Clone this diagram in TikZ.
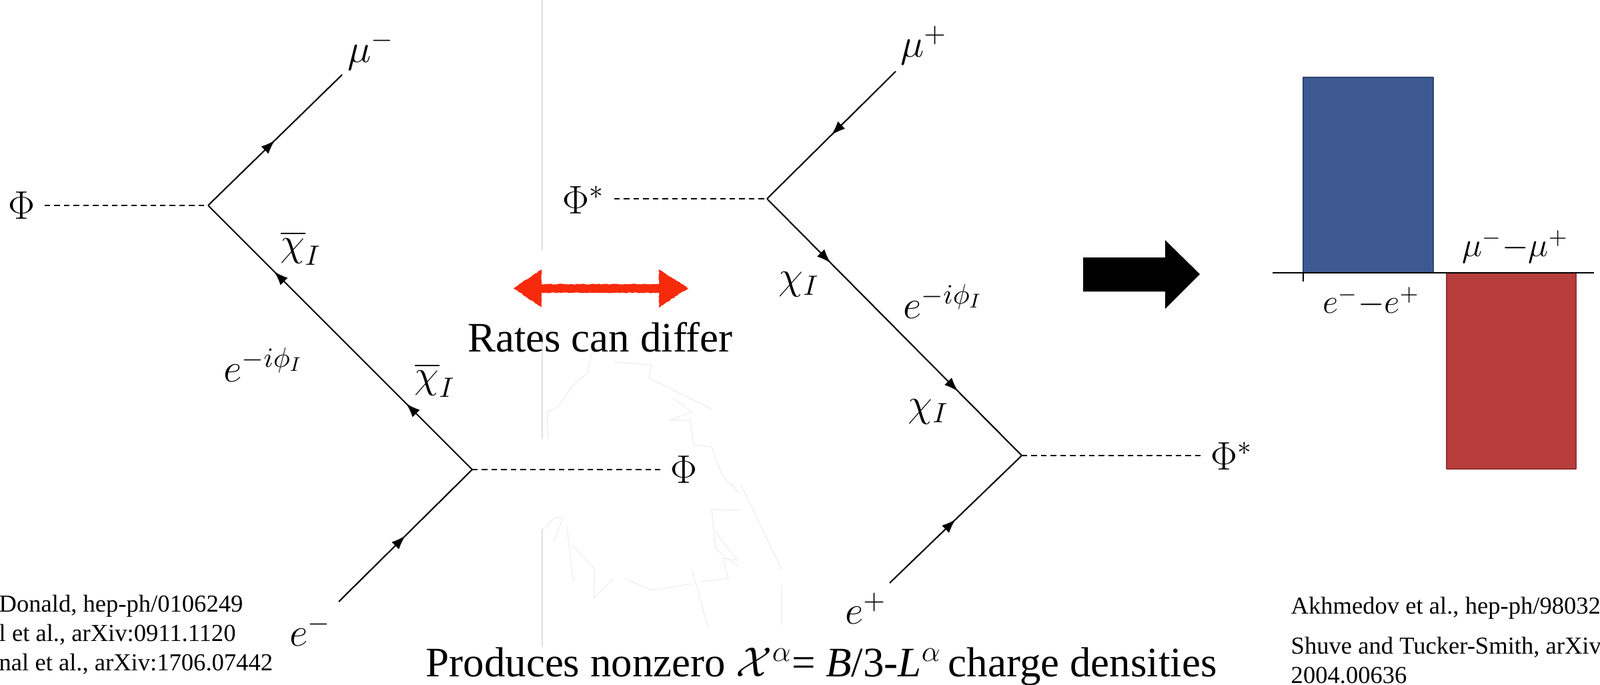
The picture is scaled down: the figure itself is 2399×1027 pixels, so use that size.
\RequirePackage{fix-cm}
\documentclass[tikz,border=0pt]{standalone}
\usepackage[no-math]{fontspec}
\setmainfont{Liberation Serif}
\usepackage{amsmath,amssymb}
\usetikzlibrary{arrows.meta,decorations.markings,decorations.pathmorphing}
\definecolor{barblue}{RGB}{62,89,146}
\definecolor{barred}{RGB}{184,61,61}
\definecolor{ratered}{RGB}{247,42,12}
\tikzset{
  fermion/.style={line width=0.6pt,postaction={decorate},
    decoration={markings,mark=at position 0.5 with {\arrow{Latex[length=6pt,width=4.4pt]}}}},
  fermionpair/.style={line width=0.6pt,postaction={decorate},
    decoration={markings,mark=at position 0.25 with {\arrow{Latex[length=6pt,width=4.4pt]}},
      mark=at position 0.75 with {\arrow{Latex[length=6pt,width=4.4pt]}}}},
  scalar/.style={line width=0.45pt,dash pattern=on 2.4pt off 1.7pt},
  lab/.style={inner sep=0pt,font=\fontsize{17}{20}\selectfont},
  barlab/.style={inner sep=0pt,font=\fontsize{14.5}{17}\selectfont},
  bigtext/.style={inner sep=0pt,font=\fontsize{17.9}{21}\selectfont},
  reftext/.style={inner sep=0pt,anchor=base west,font=\fontsize{10.4}{12.5}\selectfont},
  sketch/.style={black!7,line width=0.35pt}
}
\begin{document}
\begin{tikzpicture}[x=0.01cm,y=-0.01cm,line join=round]
  \useasboundingbox (0,0) rectangle (2399,1027);
  \clip (0,0) rectangle (2399,1027);
  % faint guide line and sketch behind the middle
  \draw[black!13,line width=0.4pt] (813,0)--(813,375) (813,493)--(813,658) (813,793)--(813,970);
  \draw[sketch] (888,528)--(880,560)--(857,580)--(837,610)--(820,618)--(822,657);
  \draw[sketch] (920,543)--(977,547)--(973,567)--(1067,613);
  \draw[sketch] (1010,598)--(1038,618)--(1003,630)--(1035,630)--(1040,667)--(1067,670)--(1083,713)--(1110,740);
  \draw[sketch] (1067,763)--(1073,823)--(1107,850);
  \draw[sketch] (813,794)--(820,789)--(830,777)--(842,775)--(843,780)--(830,812);
  \draw[sketch] (850,790)--(860,872) (858,817)--(892,854)--(890,897)--(920,867);
  \draw[sketch] (1065,764)--(1111,765) (1073,797)--(1105,840)--(1084,837)--(1092,867)--(1050,872);
  \draw[sketch] (1111,727)--(1172,854) (1172,877)--(1172,937) (1038,855)--(1062,943);
  \draw[sketch] (938,868)--(977,885)--(1038,875);
  % vertices
  \coordinate (v1) at (312,308);
  \coordinate (v2) at (708,704);
  \coordinate (v3) at (1150,298);
  \coordinate (v4) at (1532,683);
  % free ends of the external legs
  \coordinate (mum) at (513,112);
  \coordinate (em)  at (508,902);
  \coordinate (s1)  at (67,308);
  \coordinate (s2)  at (992,704);
  \coordinate (mup) at (1343,107);
  \coordinate (ep)  at (1334,874);
  \coordinate (s3)  at (921,298);
  \coordinate (s4)  at (1804,683);
  % left diagram
  \draw[scalar] (s1)--(v1);
  \draw[fermion] (v1)--(mum);
  \draw[fermionpair] (v2)--(v1);
  \draw[scalar] (v2)--(s2);
  \draw[fermion] (em)--(v2);
  % right diagram (conjugate process)
  \draw[scalar] (s3)--(v3);
  \draw[fermion] (mup)--(v3);
  \draw[fermionpair] (v3)--(v4);
  \draw[scalar] (v4)--(s4);
  \draw[fermion] (ep)--(v4);
  % particle labels
  \foreach \n/\p/\lab in {phiA/{32,308}/{$\Phi$}, muA/{556,76}/{$\mu^-$},
        chiA/{451,372}/{$\overline{\chi}_I$}, chiB/{652,570}/{$\overline{\chi}_I$},
        phaseA/{395,547}/{$e^{-i\phi_I}$}, phiB/{1025,704}/{$\Phi$}, eA/{465,945}/{$e^-$},
        phiC/{875,300}/{$\Phi^*$}, muB/{1385,68}/{$\mu^+$}, chiC/{1198,426}/{$\chi_I$},
        phaseB/{1414,452}/{$e^{-i\phi_I}$}, chiD/{1392,617}/{$\chi_I$},
        phiD/{1847,684}/{$\Phi^*$}, eB/{1298,912}/{$e^+$}}{\node[lab] (\n) at (\p) {\lab};}
  % red double arrow and caption
  \fill[ratered,decorate,decoration={random steps,segment length=0.8pt,amplitude=0.2pt}]
    (770,432)--(812,404)--(812,426)--(988,426)--(988,404)--(1032,432)
    --(988,461)--(988,439)--(812,439)--(812,461)--cycle;
  \node[bigtext,anchor=base] (rates) at (900,527) {Rates can differ};
  % black block arrow
  \fill (1624,386)--(1747,386)--(1747,360)--(1799,411)--(1747,463)--(1747,437)--(1624,437)--cycle;
  % asymmetry bars
  \filldraw[fill=barblue,draw=barblue!75!black,line width=0.4pt] (1954,116) rectangle (2149,409);
  \filldraw[fill=barred,draw=barred!80!black,line width=0.4pt] (2169,409) rectangle (2363,703);
  \draw[line width=0.35pt] (1908,409)--(2390,409);
  \draw[line width=0.35pt] (1954,409)--(1954,422);
  \node[barlab] (diffE) at (2056,452) {$e^-{-}e^+$};
  \node[barlab] (diffM) at (2272,370) {$\mu^-{-}\mu^+$};
  % bottom line
  \node[bigtext,anchor=base west] (produces) at (638,1014)
    {Produces nonzero $\mathcal{X}^{\alpha}$= \textit{B}/3-\textit{L}$^{\alpha}$\,charge densities};
  % references
  \node[reftext] (refA) at (-2,917) {Donald, hep-ph/0106249};
  \node[reftext] (refB) at (-2,961) {l et al., arXiv:0911.1120};
  \node[reftext] (refC) at (-2,1005) {nal et al., arXiv:1706.07442};
  \node[reftext] (refD) at (1935,920) {Akhmedov et al., hep-ph/98032};
  \node[reftext] (refE) at (1935,980) {Shuve and Tucker-Smith, arXiv};
  \node[reftext] (refF) at (1935,1024) {2004.00636};
\end{tikzpicture}
\end{document}
